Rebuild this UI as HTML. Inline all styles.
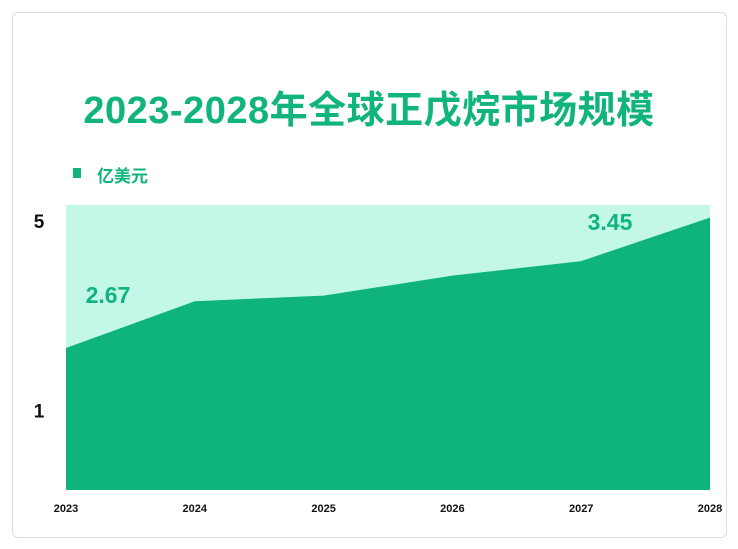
<!DOCTYPE html>
<html><head><meta charset="utf-8"><style>
body{margin:0;background:#fff;font-family:"Liberation Sans","Noto Sans CJK SC",sans-serif}
#wrap{position:relative;width:738px;height:549px;overflow:hidden}
.frame{position:absolute;left:12px;top:12px;width:713px;height:524px;border:1px solid #ddd;border-radius:6px}
.title{position:absolute;left:0;width:738px;top:79px;text-align:center;font-size:38px;font-weight:bold;color:#10b47c;letter-spacing:0.5px}
</style></head><body>
<div id="wrap">
<div class="frame"></div>
<div class="title">2023-2028年全球正戊烷市场规模</div>
<div style="position:absolute;left:73px;top:168px;width:8px;height:10px;background:#10b47c"></div>
<div style="position:absolute;left:97px;top:162px;font-size:17px;font-weight:bold;color:#10b47c">亿美元</div>
<svg id="chart" width="738" height="549" style="position:absolute;left:0;top:0"></svg>
</div>
<script>
const years=["2023","2024","2025","2026","2027","2028"];
const values=[2.67,3.09,3.14,3.32,3.45,3.84];
const labelIdx=[0,4];
const yTickLabels=["5","1"];
const yTickVals=[3.81,2.11];
const X0=66,X1=710,Y0=490,YT=205;
const vMin=1.397,vMax=3.953;
const xs=i=>X0+(X1-X0)*i/(years.length-1);
const ys=v=>Y0-(v-vMin)/(vMax-vMin)*(Y0-YT);
const svg=document.getElementById('chart');const NS='http://www.w3.org/2000/svg';
function mk(t,a){const e=document.createElementNS(NS,t);for(const k in a)e.setAttribute(k,a[k]);svg.appendChild(e);return e;}
const bg=mk('rect',{x:X0,y:YT,width:X1-X0,height:Y0-YT,fill:'#c3f8e8'});


let d='M'+X0+','+Y0;values.forEach((v,i)=>d+=' L'+xs(i)+','+ys(v));d+=' L'+X1+','+Y0+' Z';
const area=mk('path',{d:d,fill:'#0fb47c'});


years.forEach((y,i)=>{const t=mk('text',{x:xs(i),y:512,'text-anchor':'middle','font-size':11,'font-weight':'bold',fill:'#111'});t.textContent=y;

});
yTickLabels.forEach((l,i)=>{const t=mk('text',{x:39,y:ys(yTickVals[i])+7,'text-anchor':'middle','font-size':19,'font-weight':'bold',fill:'#111'});t.textContent=l;

});
labelIdx.forEach(i=>{const x=i===0?108:610;const off=i===0?45:31;const t=mk('text',{x:x,y:ys(values[i])-off,'text-anchor':'middle','font-size':23,'font-weight':'bold',fill:'#10b47c'});t.textContent=values[i].toFixed(2);

});
</script>
</body></html>
